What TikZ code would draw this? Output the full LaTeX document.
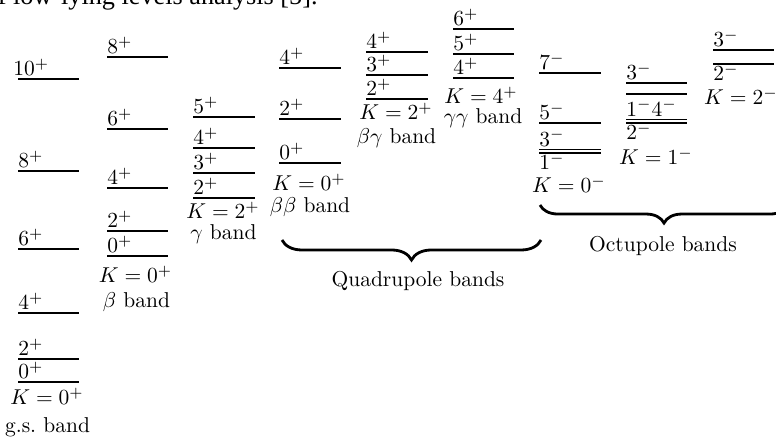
\documentclass[tikz,border=0pt]{standalone}
\usepackage{fontspec}
\newfontfamily\timesf{Liberation Serif}
\usetikzlibrary{decorations.pathreplacing}
\tikzset{
  lvl/.style={line width=0.9pt},
  up/.style={anchor=base west, inner sep=0pt},
  bandlab/.style={anchor=base, inner sep=0pt},
  brc/.style={line width=1.3pt, decorate},
}
% level with label above / below
\newcommand{\levA}[4]{\draw[lvl] (#1,#3) -- (#2,#3); \node[up] at (#1,#3-3) {$#4$};}
\newcommand{\levB}[4]{\draw[lvl] (#1,#3) -- (#2,#3); \node[up] at (#1,#3+17) {$#4$};}
\begin{document}
\begin{tikzpicture}[x=0.4651pt,y=-0.4651pt]
\useasboundingbox (0,0) rectangle (776,438);
\clip (0,0) rectangle (776,438);
% clipped caption text at the top
\node[anchor=base east, inner sep=0pt, font=\timesf\fontsize{12.2}{14}\selectfont] (cap) at (318,4.5) {of low-lying levels analysis [5].};
% g.s. band
\draw[lvl] (18,79) -- (79,79); \node[up] at (13,76) {$10^+$};
\levA{18}{79}{171}{8^+}
\levA{18}{79}{249}{6^+}
\levA{18}{79}{313}{4^+}
\levA{18}{79}{359}{2^+}
\levA{18}{79}{382}{0^+}
\node[bandlab] (kgs) at (47,405) {$K=0^+$};
\node[bandlab] (bgs) at (47.5,433) {g.s.\ band};
% beta band
\levA{107}{168}{57}{8^+}
\levA{107}{168}{129}{6^+}
\levA{107}{168}{188}{4^+}
\levA{107}{168}{231}{2^+}
\levA{107}{168}{256}{0^+}
\node[bandlab] (kb) at (135.5,283) {$K=0^+$};
\node[bandlab] (bb) at (136.5,308) {$\beta$ band};
% gamma band
\levA{193}{255}{117}{5^+}
\levA{193}{255}{148}{4^+}
\levA{193}{255}{173}{3^+}
\levA{193}{255}{198}{2^+}
\node[bandlab] (kg) at (223,219) {$K=2^+$};
\node[bandlab] (bg) at (223.5,240) {$\gamma$ band};
% beta beta band
\levA{279}{341}{68}{4^+}
\levA{279}{341}{119}{2^+}
\levA{279}{341}{163}{0^+}
\node[bandlab] (kbb) at (309,191) {$K=0^+$};
\node[bandlab] (bbb) at (310,213) {$\beta\beta$ band};
% beta gamma band
\levA{366}{428}{52}{4^+}
\levA{366}{428}{75}{3^+}
\levA{366}{428}{99}{2^+}
\node[bandlab] (kbg) at (396,120) {$K=2^+$};
\node[bandlab] (bbg) at (396.5,144) {$\beta\gamma$ band};
% gamma gamma band
\levA{453}{514}{29}{6^+}
\levA{453}{514}{54}{5^+}
\levA{453}{514}{78}{4^+}
\node[bandlab] (kgg) at (481,104) {$K=4^+$};
\node[bandlab] (bgg) at (483,124) {$\gamma\gamma$ band};
% K=0- band
\levA{539}{601}{73}{7^-}
\levA{539}{601}{123}{5^-}
\levA{539}{601}{149.5}{3^-}
\levB{539}{601}{153}{1^-}
\node[bandlab] (ko0) at (569,193) {$K=0^-$};
% K=1- band
\levA{626}{687}{83}{3^-}
\draw[lvl] (626,94) -- (687,94);
\levA{626}{687}{119.5}{1^-4^-}
\levB{626}{687}{123}{2^-}
\node[bandlab] (ko1) at (656,165) {$K=1^-$};
% K=2- band
\levA{713}{774}{50}{3^-}
\levB{713}{774}{64}{2^-}
\node[bandlab] (ko2) at (741,105) {$K=2^-$};
% braces
\coordinate (qa) at (282,240);
\coordinate (qb) at (541,240);
\draw[brc, decoration={brace, mirror, amplitude=9.3pt}] (qa) -- (qb);
\node[bandlab] (ql) at (418,287) {Quadrupole bands};
\coordinate (oa) at (540,205);
\coordinate (ob) at (788,205);
\draw[brc, decoration={brace, mirror, amplitude=8.4pt}] (oa) -- (ob);
\node[bandlab] (ol) at (663,252) {Octupole bands};
\end{tikzpicture}
\end{document}
